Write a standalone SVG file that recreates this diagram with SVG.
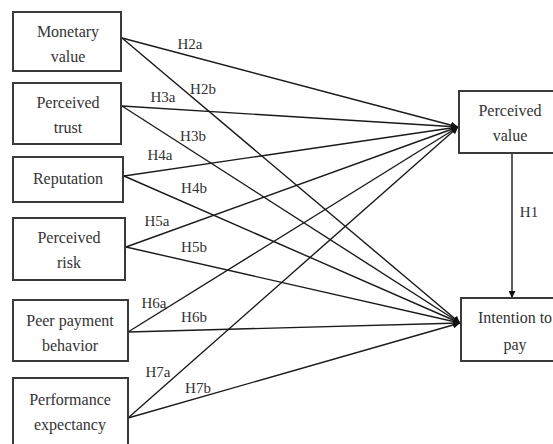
<svg xmlns="http://www.w3.org/2000/svg" width="553" height="444" viewBox="0 0 553 444" font-family="Liberation Serif, Times New Roman, serif">
<defs>
<marker id="ah" viewBox="0 0 10 10" refX="10" refY="5" markerWidth="7" markerHeight="7" orient="auto" markerUnits="userSpaceOnUse">
<path d="M0,0 L10,5 L0,10 z" fill="#111"/>
</marker>
<style>
.box{fill:#fff;stroke:#3a3a3a;stroke-width:2}
.t{font-size:16px;fill:#333;text-anchor:middle}
.l{font-size:15px;fill:#333;text-anchor:middle}
.c{stroke:#1a1a1a;stroke-width:1.4;fill:none;marker-end:url(#ah)}
</style>
</defs>
<rect width="553" height="444" fill="#fff"/>
<g id="connectors" font-family="Liberation Serif, Times New Roman, serif">
<line class="c" x1="122" y1="38" x2="458" y2="127"/>
<line class="c" x1="122" y1="38" x2="460" y2="323"/>
<line class="c" x1="122" y1="106" x2="458" y2="127"/>
<line class="c" x1="122" y1="106" x2="460" y2="323"/>
<line class="c" x1="124" y1="176" x2="458" y2="127"/>
<line class="c" x1="124" y1="176" x2="460" y2="323"/>
<line class="c" x1="126" y1="247" x2="458" y2="127"/>
<line class="c" x1="126" y1="247" x2="460" y2="323"/>
<line class="c" x1="128" y1="332" x2="458" y2="127"/>
<line class="c" x1="128" y1="332" x2="460" y2="323"/>
<line class="c" x1="128" y1="418" x2="458" y2="127"/>
<line class="c" x1="128" y1="418" x2="460" y2="323"/>
<line class="c" x1="512" y1="153" x2="512" y2="298"/>
<text class="l" x="190" y="49">H2a</text>
<text class="l" x="203" y="94">H2b</text>
<text class="l" x="163" y="102">H3a</text>
<text class="l" x="193" y="141">H3b</text>
<text class="l" x="160" y="160">H4a</text>
<text class="l" x="194" y="193">H4b</text>
<text class="l" x="157" y="226">H5a</text>
<text class="l" x="194" y="252">H5b</text>
<text class="l" x="154" y="308">H6a</text>
<text class="l" x="194" y="322">H6b</text>
<text class="l" x="158" y="377">H7a</text>
<text class="l" x="198" y="393">H7b</text>
<text class="l" x="529" y="217">H1</text>
</g>
<g id="monetary-value" font-family="Liberation Serif, Times New Roman, serif">
<rect class="box" x="13" y="12" width="108" height="59"/>
<text class="t" x="68" y="37">Monetary</text>
<text class="t" x="68" y="62">value</text>
</g>
<g id="perceived-trust" font-family="Liberation Serif, Times New Roman, serif">
<rect class="box" x="13" y="83" width="108" height="61"/>
<text class="t" x="68" y="108">Perceived</text>
<text class="t" x="68" y="133">trust</text>
</g>
<g id="reputation" font-family="Liberation Serif, Times New Roman, serif">
<rect class="box" x="13" y="157" width="110" height="45"/>
<text class="t" x="68" y="184">Reputation</text>
</g>
<g id="perceived-risk" font-family="Liberation Serif, Times New Roman, serif">
<rect class="box" x="13" y="218" width="112" height="62"/>
<text class="t" x="69" y="243">Perceived</text>
<text class="t" x="69" y="268">risk</text>
</g>
<g id="peer-payment-behavior" font-family="Liberation Serif, Times New Roman, serif">
<rect class="box" x="13" y="300" width="115" height="61"/>
<text class="t" x="70" y="326">Peer payment</text>
<text class="t" x="70" y="351">behavior</text>
</g>
<g id="performance-expectancy" font-family="Liberation Serif, Times New Roman, serif">
<rect class="box" x="13" y="378" width="115" height="70"/>
<text class="t" x="70" y="405">Performance</text>
<text class="t" x="70" y="430">expectancy</text>
</g>
<g id="perceived-value" font-family="Liberation Serif, Times New Roman, serif">
<rect class="box" x="459" y="91" width="100" height="62"/>
<text class="t" x="510" y="116">Perceived</text>
<text class="t" x="510" y="141">value</text>
</g>
<g id="intention-to-pay" font-family="Liberation Serif, Times New Roman, serif">
<rect class="box" x="461" y="298" width="100" height="63"/>
<text class="t" x="515" y="323">Intention to</text>
<text class="t" x="515" y="350">pay</text>
</g>
</svg>
